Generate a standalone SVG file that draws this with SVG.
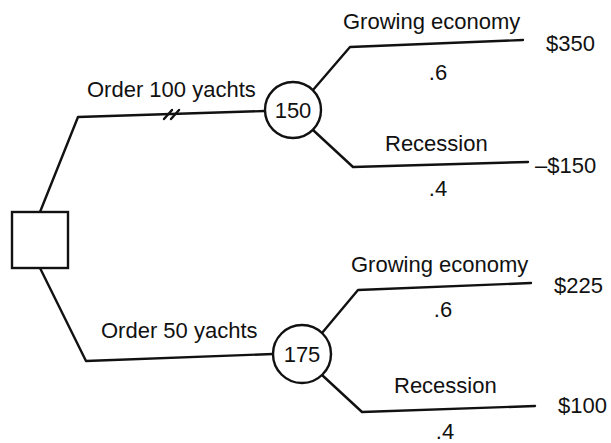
<svg xmlns="http://www.w3.org/2000/svg" width="611" height="443" viewBox="0 0 611 443">
<style>
.ln{fill:none;stroke:#111;stroke-width:2.4;stroke-linecap:round;stroke-linejoin:round}
.nd{fill:#fff;stroke:#111;stroke-width:2.4}
text{font-family:"Liberation Sans",Arial,sans-serif;font-size:22px;fill:#111}
.m{text-anchor:middle}
</style>
<rect width="611" height="443" fill="#fff"/>
<g id="connectors">
<polyline class="ln" points="40,212 78,117 265,111"/>
<line class="ln" x1="164" y1="119" x2="172" y2="110"/>
<line class="ln" x1="171" y1="119" x2="179" y2="110"/>
<polyline class="ln" points="313,90 350,47 523,40"/>
<polyline class="ln" points="313,130 353,167 528,162"/>
<polyline class="ln" points="40,268 86,361 273,354"/>
<polyline class="ln" points="322,333 358,290 531,283"/>
<polyline class="ln" points="322,375 362,412 535,406"/>
</g>
<g id="decision">
<rect class="nd" x="12" y="212" width="56" height="56"/>
</g>
<g id="chance150">
<circle class="nd" cx="293" cy="110" r="28"/>
<text class="m" x="293" y="118">150</text>
</g>
<g id="chance175">
<circle class="nd" cx="302" cy="354" r="29"/>
<text class="m" x="302" y="362">175</text>
</g>
<g id="labels">
<text x="87" y="97">Order 100 yachts</text>
<text x="101" y="338">Order 50 yachts</text>
<text x="343" y="29">Growing economy</text>
<text class="m" x="438" y="80">.6</text>
<text x="385" y="151">Recession</text>
<text class="m" x="438" y="196">.4</text>
<text x="351" y="272">Growing economy</text>
<text class="m" x="443" y="317">.6</text>
<text x="394" y="393">Recession</text>
<text class="m" x="445" y="439">.4</text>
</g>
<g id="payoffs">
<text x="546" y="51">$350</text>
<text x="535" y="173">–$150</text>
<text x="554" y="293">$225</text>
<text x="558" y="413">$100</text>
</g>
</svg>
